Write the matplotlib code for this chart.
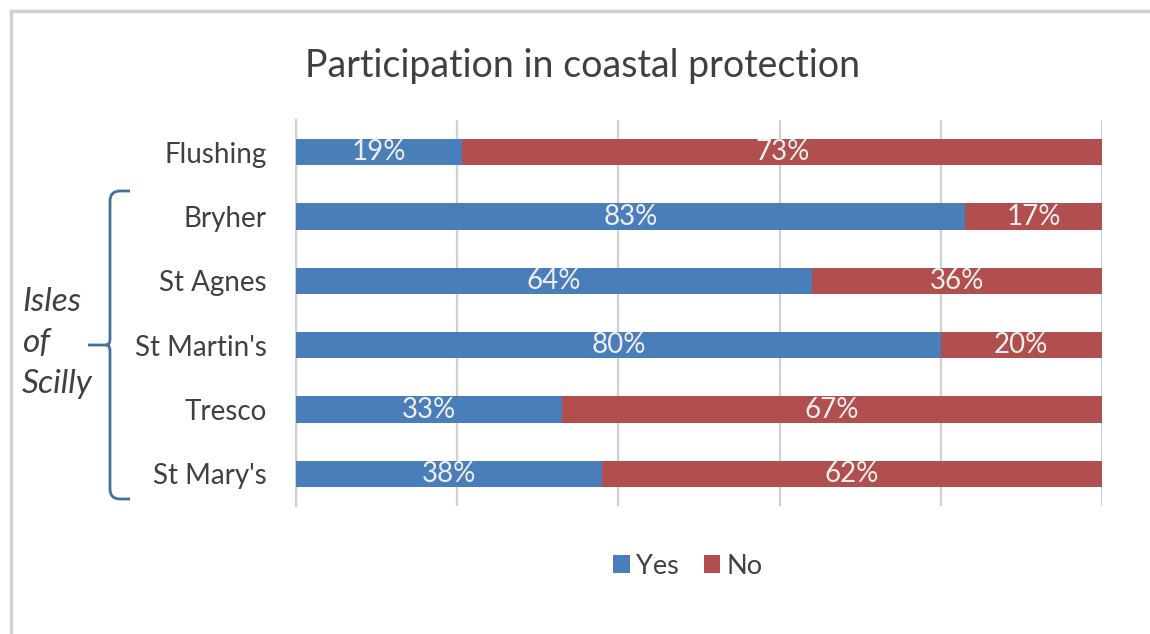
import matplotlib
matplotlib.use("Agg")
import matplotlib.pyplot as plt
from matplotlib.path import Path
from matplotlib.patches import PathPatch, Rectangle
import numpy as np

categories = ["Flushing", "Bryher", "St Agnes", "St Martin's", "Tresco", "St Mary's"]
yes_vals = [19, 83, 64, 80, 33, 38]
no_vals = [73, 17, 36, 20, 67, 62]
series_names = ["Yes", "No"]
title = "Participation in coastal protection"
group_label = "Isles\nof\nScilly"

BLUE = "#4a7ebb"
RED = "#b04f4d"
TEXT = "#404040"
FONT = "Lato"

plt.rcParams['font.family'] = [FONT, 'DejaVu Sans']

W, H = 1150, 634
fig = plt.figure(figsize=(W / 100, H / 100), dpi=100)
fig.patch.set_facecolor("white")

def fx(px):
    return px / W

def fy(py):
    return 1 - py / H

# outer border
fig.patches.append(Rectangle((fx(11), fy(640)), fx(1200), 640 / H - 11 / H,
                             transform=fig.transFigure, fill=False,
                             edgecolor="#d0d0d0", linewidth=2.5))

ax = fig.add_axes([fx(296), fy(506), fx(1102) - fx(296), (506 - 120) / H])

yes = np.array(yes_vals, dtype=float)
no = np.array(no_vals, dtype=float)
tot = yes + no
yes_n = yes / tot * 100
no_n = no / tot * 100
y = np.arange(len(categories))

ax.barh(y, yes_n, height=0.41, color=BLUE, label=series_names[0], zorder=3)
ax.barh(y, no_n, left=yes_n, height=0.41, color=RED, label=series_names[1], zorder=3)

for i in range(len(categories)):
    ax.text(yes_n[i] / 2, y[i], f"{yes_vals[i]}%", ha="center", va="center",
            color="#eeeeee", fontsize=20, zorder=4)
    ax.text(yes_n[i] + no_n[i] / 2, y[i], f"{no_vals[i]}%", ha="center", va="center",
            color="#eeeeee", fontsize=20, zorder=4)

ax.set_xlim(0, 100)
ax.set_ylim(len(categories) - 0.5, -0.5)
ax.set_xticks(np.arange(0, 101, 20))
ax.set_xticklabels([])
ax.tick_params(axis="x", length=0)
ax.grid(axis="x", color="#d0d0d0", linewidth=1.6, zorder=0)
ax.set_yticks(y)
ax.set_yticklabels(categories, fontsize=20, color=TEXT)
ax.tick_params(axis="y", length=0, pad=21)
for s in ax.spines.values():
    s.set_visible(False)
ax.spines["left"].set_visible(True)
ax.spines["left"].set_color("#d0d0d0")
ax.spines["left"].set_linewidth(1.6)

fig.text(fx(583), fy(66), title, ha="center", va="center", fontsize=27, color=TEXT)

leg = fig.legend(loc="center", bbox_to_anchor=(fx(688), fy(566)), ncol=2, frameon=False,
                 fontsize=19.5, handlelength=0.6, handleheight=0.6, handletextpad=0.25,
                 columnspacing=0.9, labelcolor=TEXT)

# brace
bc = "#41719c"
top, bot, mid = 191, 499, 345
xr, xl, xn = 130, 110, 88
r = 10
verts = [
    (xr, top), (xl + r, top), (xl, top), (xl, top + r),
    (xl, mid - 6), (xl, mid), (xl - 4, mid), (xn, mid),
    (xl - 4, mid), (xl, mid), (xl, mid + 6),
    (xl, bot - r), (xl, bot), (xl + r, bot), (xr, bot),
]
codes = [Path.MOVETO, Path.LINETO, Path.CURVE3, Path.CURVE3,
         Path.LINETO, Path.CURVE3, Path.CURVE3, Path.LINETO,
         Path.MOVETO, Path.CURVE3, Path.CURVE3,
         Path.LINETO, Path.CURVE3, Path.CURVE3, Path.LINETO]
verts_f = [(fx(a), fy(b)) for a, b in verts]
fig.patches.append(PathPatch(Path(verts_f, codes), transform=fig.transFigure,
                             fill=False, edgecolor=bc, linewidth=2))

fig.text(fx(22), fy(343), group_label, ha="left", va="center", fontsize=24,
         style="italic", color=TEXT, linespacing=1.45)

fig.savefig("out.png", dpi=100, facecolor="white")
